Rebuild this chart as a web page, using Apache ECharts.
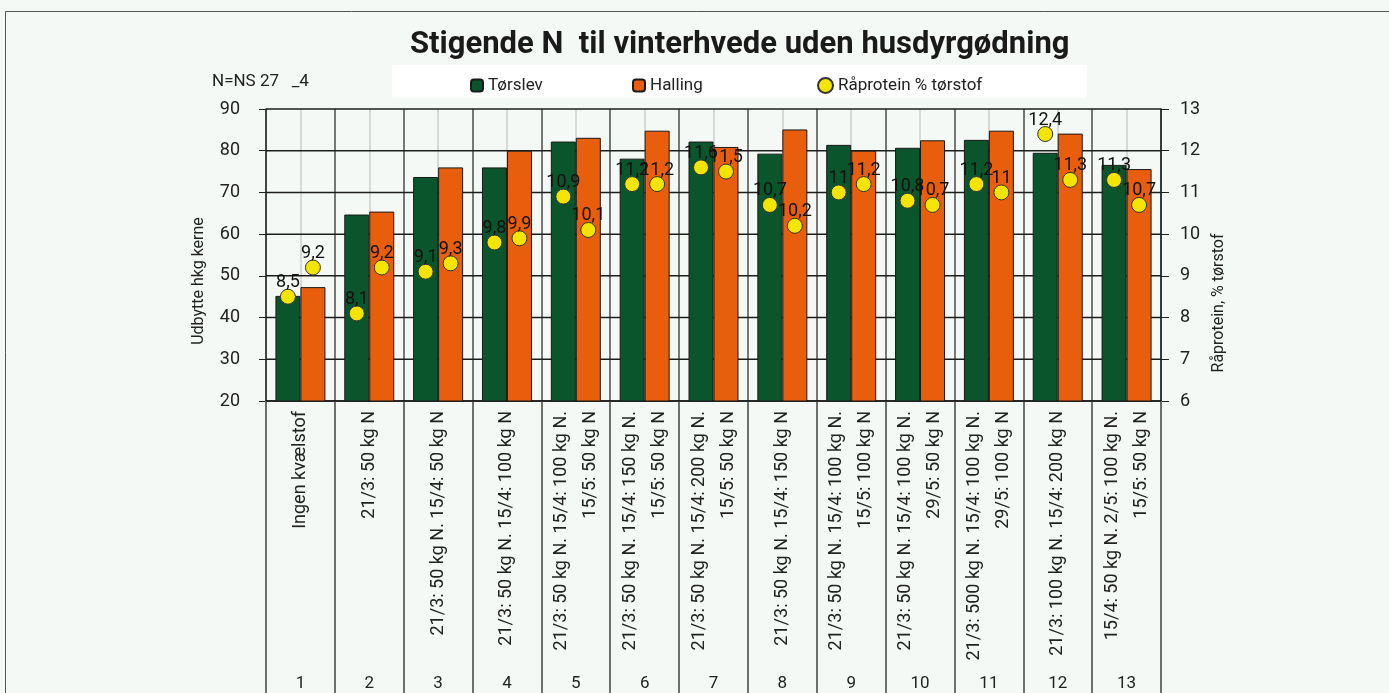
<!DOCTYPE html>
<html>
<head>
<meta charset="utf-8">
<script src="https://cdn.jsdelivr.net/npm/echarts@6/dist/echarts.min.js"></script>
<style>
  html, body { margin: 0; padding: 0; background: #f5f9f6; }
  #chart { width: 1389px; height: 693px; }
</style>
</head>
<body>
<div id="chart"></div>
<script>
// category texts (x axis) and group numbers
const categories = [
  "Ingen kvælstof",
  "21/3: 50 kg N",
  "21/3: 50 kg N. 15/4: 50 kg N",
  "21/3: 50 kg N. 15/4: 100 kg N",
  "21/3: 50 kg N. 15/4: 100 kg N.\n15/5: 50 kg N",
  "21/3: 50 kg N. 15/4: 150 kg N.\n15/5: 50 kg N",
  "21/3: 50 kg N. 15/4: 200 kg N.\n15/5: 50 kg N",
  "21/3: 50 kg N. 15/4: 150 kg N",
  "21/3: 50 kg N. 15/4: 100 kg N.\n15/5: 100 kg N",
  "21/3: 50 kg N. 15/4: 100 kg N.\n29/5: 50 kg N",
  "21/3: 500 kg N. 15/4: 100 kg N.\n29/5: 100 kg N",
  "21/3: 100 kg N. 15/4: 200 kg N",
  "15/4: 50 kg N. 2/5: 100 kg N.\n15/5: 50 kg N",
];
const group_numbers = ["1", "2", "3", "4", "5", "6", "7", "8", "9", "10", "11", "12", "13"];

// yield, hkg kerne
const torslev_yield = [45.2, 64.7, 73.7, 76.0, 82.2, 78.1, 82.2, 79.3, 81.4, 80.7, 82.6, 79.5, 76.6];
const halling_yield = [47.3, 65.4, 76.0, 80.0, 83.1, 84.8, 80.9, 85.1, 80.0, 82.5, 84.8, 84.1, 75.6];

// raw protein, % dry matter
const torslev_protein = [8.5, 8.1, 9.1, 9.8, 10.9, 11.2, 11.6, 10.7, 11, 10.8, 11.2, 12.4, 11.3];
const halling_protein = [9.2, 9.2, 9.3, 9.9, 10.1, 11.2, 11.5, 10.2, 11.2, 10.7, 11, 11.3, 10.7];

// axis ticks
const left_ticks = { min: 20, max: 90, step: 10 };
const right_ticks = { min: 6, max: 13, step: 1 };
const grid_levels = [20, 30, 40, 50, 60, 70, 80, 90];

const font = "Roboto";
const green = "#0a552b";
const orange = "#e85e0d";
const yellow = "#f3e500";
const bar_w = 25;

// half categories, only used for the light centre lines
const half_categories = categories.flatMap((c, i) => [i + "a", i + "b"]);

const chart = echarts.init(document.getElementById("chart"));

const protein_label = {
  show: true,
  position: "top",
  distance: -3,
  fontFamily: font,
  fontSize: 18,
  color: "#111",
  formatter: (p) => String(p.value).replace(".", ","),
};

chart.setOption({
  backgroundColor: "#f5f9f6",
  animation: false,
  textStyle: { fontFamily: font },
  title: {
    text: "Stigende N  til vinterhvede uden husdyrgødning",
    left: 405,
    top: 25,
    textStyle: { fontFamily: font, fontSize: 31, fontWeight: "bold", color: "#1a1a1a" },
  },
  legend: [
    {
      data: ["Tørslev"],
      left: 465,
      top: 72,
      itemWidth: 12,
      itemHeight: 12,
      selectedMode: false,
      textStyle: { fontFamily: font, fontSize: 17, color: "#222" },
    },
    {
      data: ["Halling"],
      left: 627,
      top: 72,
      itemWidth: 12,
      itemHeight: 12,
      selectedMode: false,
      textStyle: { fontFamily: font, fontSize: 17, color: "#222" },
    },
    {
      data: [{ name: "Råprotein % tørstof", icon: "circle" }],
      left: 812,
      top: 72,
      itemWidth: 15,
      itemHeight: 15,
      selectedMode: false,
      textStyle: { fontFamily: font, fontSize: 17, color: "#222" },
    },
  ],
  graphic: [
    {
      type: "rect",
      silent: true,
      z: -10,
      shape: { x: 5.5, y: 11.5, width: 1400, height: 700 },
      style: { fill: "none", stroke: "#555", lineWidth: 1 },
    },
    {
      type: "rect",
      silent: true,
      z: -5,
      shape: { x: 392, y: 65, width: 695, height: 33 },
      style: { fill: "#ffffff" },
    },
    {
      type: "text",
      x: 212,
      y: 82,
      style: { text: "N=NS 27   _4", fontFamily: font, fontSize: 17, fill: "#222", verticalAlign: "middle" },
    },
    {
      type: "text",
      x: 199,
      y: 281,
      rotation: Math.PI / 2,
      style: { text: "Udbytte hkg kerne", fontFamily: font, fontSize: 16, fill: "#222", align: "center", verticalAlign: "middle" },
    },
    {
      type: "text",
      x: 1219,
      y: 303,
      rotation: Math.PI / 2,
      style: { text: "Råprotein, % tørstof", fontFamily: font, fontSize: 16, fill: "#222", align: "center", verticalAlign: "middle" },
    },
  ],
  grid: { left: 266, right: 228, top: 109, bottom: 292, containLabel: false },
  xAxis: [
    {
      // main axis: bars, boundary lines and rotated texts
      type: "category",
      data: categories,
      position: "bottom",
      axisLine: { show: true, lineStyle: { color: "#111", width: 1.5 } },
      axisTick: { show: true, length: 292, lineStyle: { color: "#6f6f6f", width: 2 } },
      axisLabel: {
        interval: 0,
        rotate: 90,
        margin: 10,
        fontFamily: font,
        fontSize: 18,
        lineHeight: 29,
        color: "#222",
      },
      splitLine: { show: true, lineStyle: { color: "#777", width: 2 } },
    },
    {
      // group numbers at the bottom
      type: "category",
      data: group_numbers,
      position: "bottom",
      axisLine: { show: false },
      axisTick: { show: false },
      splitLine: { show: false },
      axisLabel: { interval: 0, margin: 274, fontFamily: font, fontSize: 17, color: "#222" },
    },
    {
      // light lines through the middle of each group
      type: "category",
      data: half_categories,
      position: "top",
      axisLine: { show: false },
      axisTick: { show: false },
      axisLabel: { show: false },
      splitLine: {
        show: true,
        interval: (idx) => idx % 2 === 1,
        lineStyle: { color: "#cdcdcd", width: 1.5 },
      },
    },
  ],
  yAxis: [
    {
      type: "value",
      min: left_ticks.min,
      max: left_ticks.max,
      interval: left_ticks.step,
      axisLine: { show: true, lineStyle: { color: "#333", width: 1.5 } },
      axisTick: { show: true, length: 7, lineStyle: { color: "#222" } },
      axisLabel: { margin: 26, fontFamily: font, fontSize: 18, color: "#222" },
      splitLine: { show: false },
    },
    {
      type: "value",
      min: right_ticks.min,
      max: right_ticks.max,
      interval: right_ticks.step,
      position: "right",
      axisLine: { show: true, lineStyle: { color: "#111", width: 1.5 } },
      axisTick: { show: true, length: 8, lineStyle: { color: "#222" } },
      axisLabel: { margin: 19, fontFamily: font, fontSize: 18, color: "#222" },
      splitLine: { show: false },
    },
  ],
  series: [
    {
      // black horizontal grid lines, behind the bars
      name: "grid",
      type: "custom",
      z: 1,
      silent: true,
      data: grid_levels,
      encode: { y: 0 },
      renderItem: (params, api) => {
        const y = api.coord([0, api.value(0)])[1];
        const cs = params.coordSys;
        return {
          type: "line",
          shape: { x1: cs.x, y1: y, x2: cs.x + cs.width, y2: y },
          style: { stroke: "#1e1e1e", lineWidth: 1.5 },
        };
      },
    },
    {
      name: "Tørslev",
      type: "bar",
      data: torslev_yield,
      barWidth: bar_w,
      barGap: "0%",
      itemStyle: { color: green, borderColor: "#1a1a1a", borderWidth: 1 },
    },
    {
      name: "Halling",
      type: "bar",
      data: halling_yield,
      barWidth: bar_w,
      barGap: "0%",
      itemStyle: { color: orange, borderColor: "#1a1a1a", borderWidth: 1 },
    },
    {
      name: "Råprotein % tørstof",
      type: "scatter",
      yAxisIndex: 1,
      data: torslev_protein,
      symbol: "circle",
      symbolSize: 15,
      symbolOffset: [-bar_w / 2, 0],
      itemStyle: { color: yellow, borderColor: "#333", borderWidth: 1, opacity: 1 },
      label: protein_label,
      z: 5,
    },
    {
      name: "Råprotein % tørstof",
      type: "scatter",
      yAxisIndex: 1,
      data: halling_protein,
      symbol: "circle",
      symbolSize: 15,
      symbolOffset: [bar_w / 2, 0],
      itemStyle: { color: yellow, borderColor: "#333", borderWidth: 1, opacity: 1 },
      label: protein_label,
      z: 5,
    },
  ],
});

window.addEventListener("resize", chart.resize);
</script>
</body>
</html>
